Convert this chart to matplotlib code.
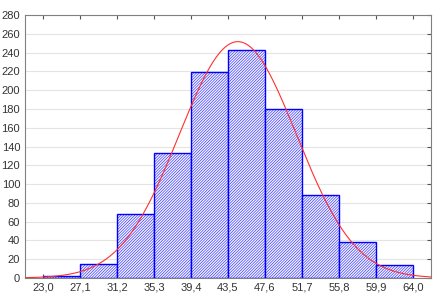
import numpy as np
import matplotlib
matplotlib.use("Agg")
import matplotlib.pyplot as plt

# bin edges (tick labels) and counts
edges = [23.0, 27.1, 31.2, 35.3, 39.4, 43.5, 47.6, 51.7, 55.8, 59.9, 64.0]
counts = [2, 15, 68, 133, 219, 243, 180, 88, 38, 14]
tick_labels = ["23,0", "27,1", "31,2", "35,3", "39,4", "43,5", "47,6", "51,7", "55,8", "59,9", "64,0"]

# fitted normal curve
mu = 44.6
sigma = 6.5
n_total = 1000

plt.rcParams['font.family'] = ['Liberation Sans', 'DejaVu Sans']
plt.rcParams['hatch.linewidth'] = 0.35
plt.rcParams['hatch.color'] = '#5a5aff'

fig = plt.figure(figsize=(4.35, 3.03), dpi=100)
ax = fig.add_axes([0.0575, 0.0825, 0.933, 0.868])

widths = np.diff(edges)
ax.bar(edges[:-1], counts, width=widths, align='edge', facecolor='#f2f2ff',
       edgecolor='#0000ff', linewidth=1.0, hatch='/' * 12, zorder=2)

xs = np.linspace(21.0, 66.0, 400)
bw = edges[1] - edges[0]
ys = n_total * bw / (sigma * np.sqrt(2 * np.pi)) * np.exp(-0.5 * ((xs - mu) / sigma) ** 2)
ax.plot(xs, ys, color='#ff3030', linewidth=0.8, zorder=3)

ax.set_xlim(21.0, 66.0)
ax.set_ylim(0, 280)
ax.set_xticks(edges)
ax.set_xticklabels(tick_labels)
ax.set_yticks(np.arange(0, 281, 20))
ax.yaxis.grid(True, color='#e4e4e4', linewidth=0.8, zorder=0)
ax.set_axisbelow(True)

ax.tick_params(axis='both', direction='in', length=3, width=0.8, color='#555555',
               labelsize=8, labelcolor='#333333', top=True, right=True)
ax.tick_params(axis='y', left=False)
for s in ax.spines.values():
    s.set_color('#808080')
    s.set_linewidth(0.8)

fig.savefig("out.png", dpi=100)
